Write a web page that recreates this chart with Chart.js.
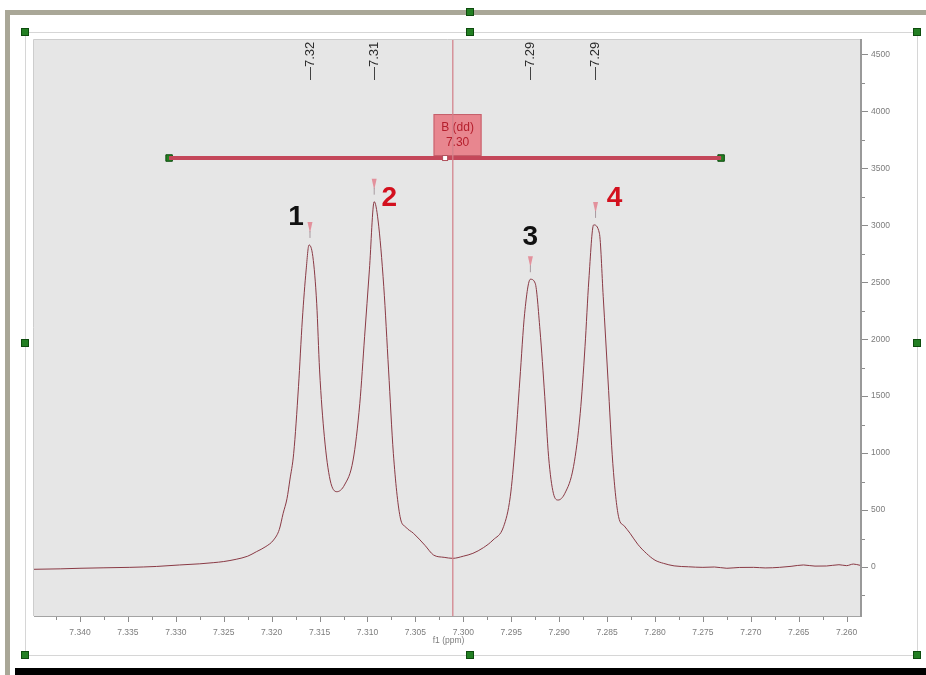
<!DOCTYPE html>
<html>
<head>
<meta charset="utf-8">
<title>f1 (ppm)</title>
<script src="https://cdn.jsdelivr.net/npm/chart.js@4.4.1/dist/chart.umd.min.js"></script>
<style>
  html, body { margin: 0; padding: 0; background: #fff; }
  #wrap { width: 926px; height: 675px; }
</style>
</head>
<body>
<div id="wrap"><canvas id="nmr" width="926" height="675"></canvas></div>
<script>
// spectrum trace (ppm descending)
const ppm = [
  7.3448, 7.3420, 7.3400, 7.3375, 7.3348, 7.3320, 7.3296, 7.3275, 7.3261, 7.3250,
  7.3237, 7.3225, 7.3216, 7.3206, 7.3198, 7.3192, 7.3188, 7.3184, 7.3181, 7.3177,
  7.3172, 7.3168, 7.3164, 7.3161, 7.3157, 7.3153, 7.3150, 7.3145, 7.3139, 7.3132,
  7.3124, 7.3115, 7.3108, 7.3103, 7.3098, 7.3093, 7.3089, 7.3083, 7.3078, 7.3073,
  7.3066, 7.3060, 7.3052, 7.3040, 7.3031, 7.3020, 7.3011, 7.3000, 7.2990, 7.2979,
  7.2969, 7.2958, 7.2951, 7.2946, 7.2941, 7.2936, 7.2930, 7.2925, 7.2920, 7.2915,
  7.2911, 7.2906, 7.2901, 7.2894, 7.2885, 7.2878, 7.2873, 7.2869, 7.2864, 7.2858,
  7.2854, 7.2849, 7.2844, 7.2838, 7.2832, 7.2826, 7.2818, 7.2809, 7.2800, 7.2791,
  7.2780, 7.2765, 7.2750, 7.2738, 7.2725, 7.2712, 7.2697, 7.2685, 7.2670, 7.2658,
  7.2645, 7.2633, 7.2621, 7.2608, 7.2600, 7.2593, 7.2586
];
const intensity = [
  -20, -16, -11, -7, -3, 5, 18, 28, 38, 48,
  68, 95, 134, 180, 237, 330, 471, 600, 764, 998,
  1583, 2169, 2608, 2827, 2724, 2315, 1730, 1144, 764, 661,
  720, 939, 1437, 2022, 2608, 3207, 3046, 2461, 1730, 998,
  442, 350, 296, 190, 105, 85, 76, 95, 120, 170,
  237, 354, 617, 1056, 1642, 2227, 2526, 2491, 2081, 1495,
  968, 647, 588, 647, 881, 1349, 1934, 2520, 3003, 2930,
  2373, 1642, 910, 442, 360, 296, 200, 120, 60, 32,
  10, 2, -3, 0, -11, -4, -3, -8, -3, 6,
  18, 8, 9, 20, 12, 26, 15
];

// picked peaks
const peakPpm = [7.3160, 7.3093, 7.2930, 7.2862];
const peakHeight = [2827, 3207, 2526, 3003];
const peakShift = ['7.32', '7.31', '7.29', '7.29'];
const peakNumber = ['1', '2', '3', '4'];

// multiplet B and cursor
const multipletRange = [7.3307, 7.2731];
const multipletLevel = 3590;
const multipletName = 'B (dd)';
const multipletShift = '7.30';
const multipletShiftPpm = 7.3006;
const multipletHandlePpm = 7.3019;
const cursorPpm = 7.3011;

// axes
const xRange = [7.2585, 7.3448];
const yRange = [-430, 4626];
const xStep = 0.0025;
const yTicks = [-250, 0, 250, 500, 750, 1000, 1250, 1500, 1750, 2000, 2250,
                2500, 2750, 3000, 3250, 3500, 3750, 4000, 4250, 4500];

const isMajorX = v => Math.round(v * 10000) % 50 === 0;
const isMajorY = v => Math.round(v) % 500 === 0;
const fontFamily = '"Liberation Sans", Arial, sans-serif';

const frame = {
    id: 'frame',
    beforeDraw(chart) {
        const { ctx, chartArea: a } = chart;
        ctx.save();
        ctx.fillStyle = '#ffffff';
        ctx.fillRect(0, 0, 926, 675);
        ctx.fillStyle = '#a9a797';
        ctx.fillRect(5, 10, 921, 5);
        ctx.fillRect(5, 10, 5, 665);
        ctx.fillStyle = '#000000';
        ctx.fillRect(15, 668, 911, 7);
        ctx.strokeStyle = '#d6d6d6';
        ctx.lineWidth = 1;
        ctx.strokeRect(25.5, 32.5, 892, 623);
        // plot background
        ctx.fillStyle = '#e6e6e6';
        ctx.fillRect(a.left, a.top, a.right - a.left, a.bottom - a.top);
        ctx.strokeStyle = '#cdcdcd';
        ctx.beginPath();
        ctx.moveTo(a.left - 0.5, a.bottom);
        ctx.lineTo(a.left - 0.5, a.top - 0.5);
        ctx.lineTo(a.right, a.top - 0.5);
        ctx.stroke();
        ctx.restore();
    },
    afterDraw(chart) {
        const { ctx } = chart;
        const handles = [[25, 32], [470, 32], [917, 32], [25, 343], [917, 343],
                         [25, 655], [470, 655], [917, 655], [470, 12]];
        ctx.save();
        ctx.fillStyle = '#237f23';
        ctx.strokeStyle = '#0e4c0e';
        ctx.lineWidth = 1;
        handles.forEach(([hx, hy]) => {
            ctx.fillRect(hx - 3.5, hy - 3.5, 7, 7);
            ctx.strokeRect(hx - 3.5, hy - 3.5, 7, 7);
        });
        ctx.restore();
    }
};

// major / minor tick marks and the axis title
const tickMarks = {
    id: 'tickMarks',
    afterDraw(chart) {
        const { ctx, chartArea: a, scales: { x, y } } = chart;
        ctx.save();
        ctx.strokeStyle = '#8c8c8c';
        ctx.lineWidth = 1;
        ctx.beginPath();
        x.ticks.forEach(t => {
            const px = Math.round(x.getPixelForValue(t.value)) + 0.5;
            ctx.moveTo(px, a.bottom + 1);
            ctx.lineTo(px, a.bottom + 1 + (isMajorX(t.value) ? 5 : 3));
        });
        y.ticks.forEach(t => {
            const py = Math.round(y.getPixelForValue(t.value)) + 0.5;
            ctx.moveTo(a.right + 1, py);
            ctx.lineTo(a.right + 1 + (isMajorY(t.value) ? 6 : 3), py);
        });
        ctx.stroke();
        ctx.fillStyle = '#7c7c7c';
        ctx.font = '8.5px ' + fontFamily;
        ctx.textAlign = 'center';
        ctx.textBaseline = 'middle';
        ctx.fillText('f1 (ppm)', (a.left + a.right) / 2 + 1, 641);
        ctx.restore();
    }
};

// cursor, multiplet box, peak markers and labels
const annotations = {
    id: 'annotations',
    afterDatasetsDraw(chart) {
        const { ctx, chartArea: a, scales: { x, y } } = chart;
        ctx.save();
        const barY = y.getPixelForValue(multipletLevel);

        // multiplet label box
        const bx = x.getPixelForValue(multipletShiftPpm);
        const bw = 48, bh = 42;
        ctx.fillStyle = '#e8868f';
        ctx.strokeStyle = '#c4606c';
        ctx.lineWidth = 1;
        ctx.fillRect(bx - bw / 2, barY - 2 - bh, bw, bh);
        ctx.strokeRect(bx - bw / 2 + 0.5, barY - 2 - bh + 0.5, bw - 1, bh - 1);
        ctx.fillStyle = '#b51f2d';
        ctx.font = '12px ' + fontFamily;
        ctx.textAlign = 'center';
        ctx.textBaseline = 'middle';
        ctx.fillText(multipletName, bx, barY - 30);
        ctx.fillText(multipletShift, bx, barY - 15);

        // cursor line
        const cx = x.getPixelForValue(cursorPpm);
        ctx.strokeStyle = 'rgba(210, 130, 140, 0.85)';
        ctx.lineWidth = 1.5;
        ctx.beginPath();
        ctx.moveTo(cx, a.top);
        ctx.lineTo(cx, a.bottom);
        ctx.stroke();

        // handle on the bar
        const hx = x.getPixelForValue(multipletHandlePpm);
        ctx.fillStyle = '#ffffff';
        ctx.strokeStyle = '#b0505c';
        ctx.lineWidth = 1;
        ctx.fillRect(hx - 2.5, barY - 2.5, 5, 5);
        ctx.strokeRect(hx - 2.5, barY - 2.5, 5, 5);

        // peak markers, numbers, rotated shift labels
        const numOffset = [[-14, -28], [15, -3], [0, -42], [19, -27]];
        const numColor = ['#111111', '#d3101e', '#111111', '#d3101e'];
        peakPpm.forEach((p, i) => {
            const px = x.getPixelForValue(p);
            const py = y.getPixelForValue(peakHeight[i]);
            ctx.fillStyle = '#e3919c';
            ctx.beginPath();
            ctx.moveTo(px - 2.5, py - 23);
            ctx.lineTo(px + 2.5, py - 23);
            ctx.lineTo(px, py - 12);
            ctx.closePath();
            ctx.fill();
            ctx.strokeStyle = '#a79aa0';
            ctx.lineWidth = 1;
            ctx.beginPath();
            ctx.moveTo(px, py - 14);
            ctx.lineTo(px, py - 7);
            ctx.stroke();

            ctx.fillStyle = numColor[i];
            ctx.font = 'bold 28px ' + fontFamily;
            ctx.textAlign = 'center';
            ctx.textBaseline = 'middle';
            ctx.fillText(peakNumber[i], px + numOffset[i][0], py + numOffset[i][1]);

            ctx.save();
            ctx.translate(px, 80);
            ctx.rotate(-Math.PI / 2);
            ctx.fillStyle = '#2b2b2b';
            ctx.font = '13px ' + fontFamily;
            ctx.textAlign = 'left';
            ctx.textBaseline = 'middle';
            ctx.fillText('\u2014' + peakShift[i], 0, 0);
            ctx.restore();
        });
        ctx.restore();
    }
};

const barData = multipletRange.map(p => ({ x: p, y: multipletLevel }));

new Chart(document.getElementById('nmr'), {
    type: 'line',
    data: {
        datasets: [
            {
                data: ppm.map((p, i) => ({ x: p, y: intensity[i] })),
                borderColor: '#8a3a45',
                borderWidth: 1,
                pointRadius: 0,
                cubicInterpolationMode: 'monotone'
            },
            { data: barData, borderColor: '#c4475a', borderWidth: 4, pointRadius: 0 },
            { data: barData, borderColor: '#ec8c98', borderWidth: 1.5, pointRadius: 0 },
            {
                data: barData,
                showLine: false,
                pointStyle: 'rect',
                pointRadius: 4.6,
                pointBackgroundColor: '#237f23',
                pointBorderColor: '#0e4c0e',
                pointBorderWidth: 1
            }
        ]
    },
    options: {
        responsive: false,
        animation: false,
        layout: { padding: { left: 34, top: 40, right: 0, bottom: 0 } },
        plugins: { legend: { display: false }, tooltip: { enabled: false } },
        scales: {
            x: {
                type: 'linear',
                reverse: true,
                min: xRange[0],
                max: xRange[1],
                afterFit: s => { s.height = 59; },
                grid: { drawOnChartArea: false, drawTicks: false },
                border: { display: true, color: '#a3a3a3', width: 1 },
                ticks: {
                    stepSize: xStep,
                    maxTicksLimit: 1000,
                    includeBounds: false,
                    autoSkip: false,
                    maxRotation: 0,
                    padding: 12,
                    color: '#7c7c7c',
                    font: { size: 8.5, family: fontFamily },
                    callback: v => isMajorX(v) ? v.toFixed(3) : ''
                }
            },
            y: {
                type: 'linear',
                position: 'right',
                min: yRange[0],
                max: yRange[1],
                afterBuildTicks: s => { s.ticks = yTicks.map(v => ({ value: v })); },
                afterFit: s => { s.width = 65; },
                grid: { drawOnChartArea: false, drawTicks: false },
                border: { display: true, color: '#999999', width: 2 },
                ticks: {
                    autoSkip: false,
                    padding: 10,
                    color: '#7c7c7c',
                    font: { size: 8.5, family: fontFamily },
                    callback: v => isMajorY(v) ? String(Math.round(v)) : ''
                }
            }
        }
    },
    plugins: [frame, tickMarks, annotations]
});
</script>
</body>
</html>
